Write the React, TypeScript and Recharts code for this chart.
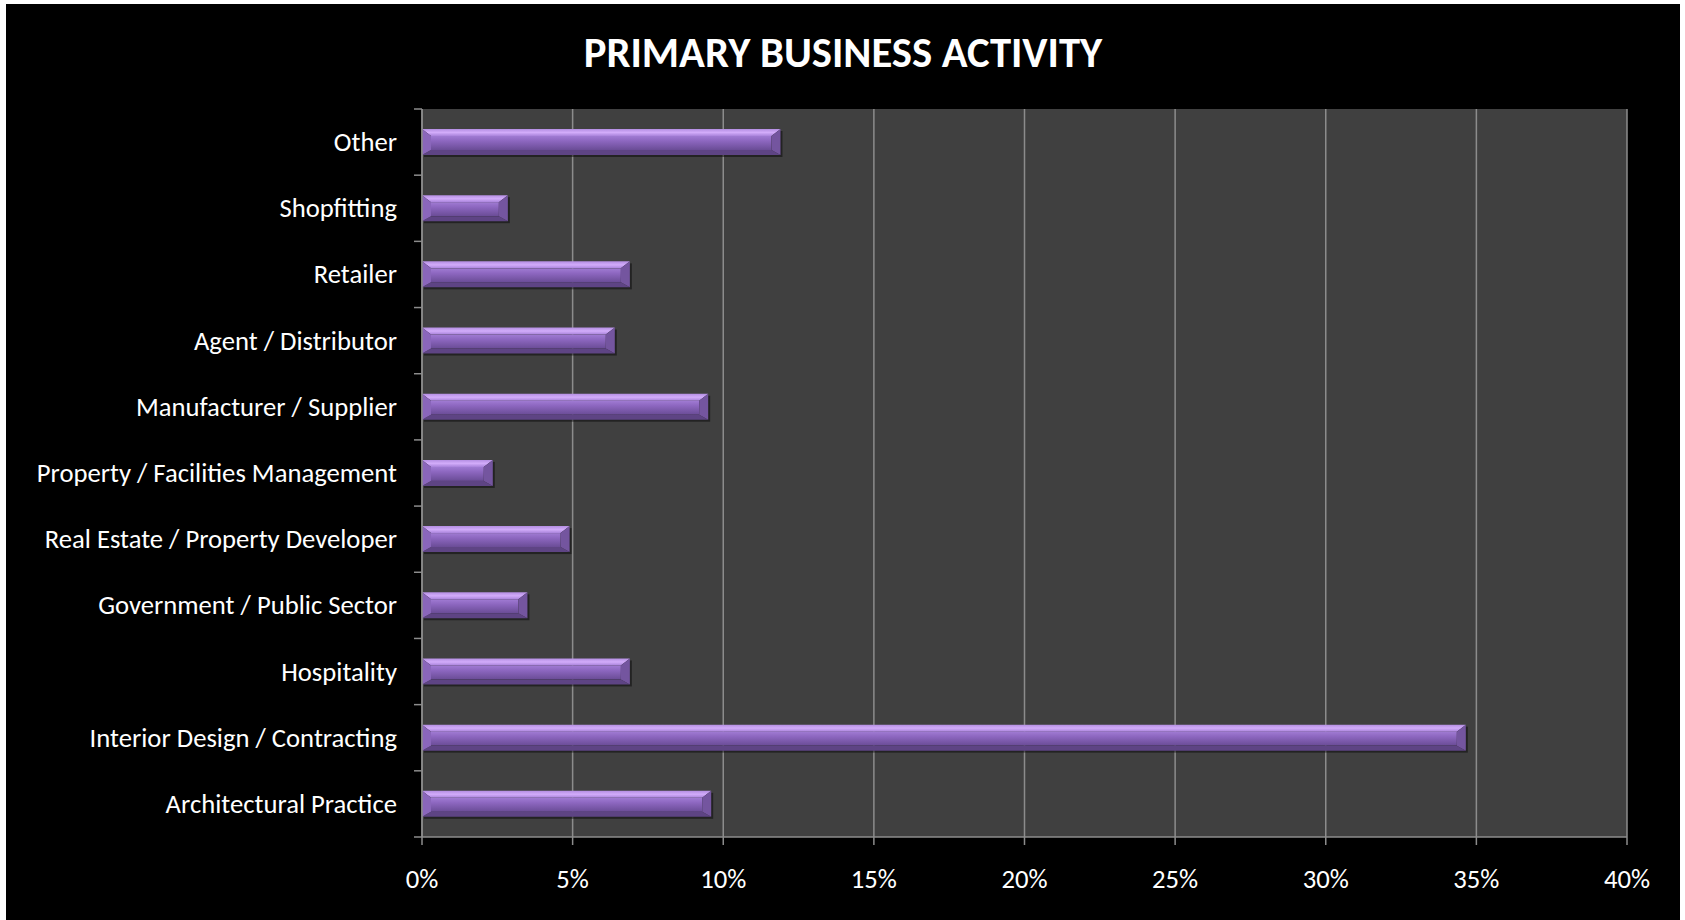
import React from 'react';
import { BarChart, Bar, XAxis, YAxis, CartesianGrid } from 'recharts';

const categories = [
  'Other',
  'Shopfitting',
  'Retailer',
  'Agent / Distributor',
  'Manufacturer / Supplier',
  'Property / Facilities Management',
  'Real Estate / Property Developer',
  'Government / Public Sector',
  'Hospitality',
  'Interior Design / Contracting',
  'Architectural Practice',
];
const shares = [11.9, 2.85, 6.9, 6.4, 9.5, 2.35, 4.9, 3.5, 6.9, 34.65, 9.6];
const xTicks = [0, 5, 10, 15, 20, 25, 30, 35, 40];

const data = categories.map((name, i) => ({ name, value: shares[i] }));

const W = 1674;
const H = 916;
const Y_AXIS_W = 416;
const MARGIN = { top: 105, right: 53, bottom: 43, left: 0 };
const X_AXIS_H = 40;
const PLOT_H = H - MARGIN.top - MARGIN.bottom - X_AXIS_H;
const BAND = PLOT_H / categories.length;
const GRID = '#8c8c8c';
const FONT = "Carlito, 'Open Sans', sans-serif";

// bevelled purple bar, like the Excel preset
const BevelBar = (props: any) => {
  const { x, y, width, height } = props;
  if (!width || width <= 0) return null;
  const d = Math.min(9, width / 2);
  const dt = 7;
  const db = 5;
  const r = x + width;
  const b = y + height;
  return (
    <g>
      <rect x={x + 2} y={y + 2} width={width} height={height} fill="#000" opacity={0.45} />
      <rect x={x + d} y={y + dt} width={width - 2 * d} height={height - dt - db} fill="url(#barBody)" />
      <polygon points={`${x},${y} ${r},${y} ${r - d},${y + dt} ${x + d},${y + dt}`} fill="url(#barTop)" />
      <polygon points={`${x + d},${b - db} ${r - d},${b - db} ${r},${b} ${x},${b}`} fill="#5e4484" />
      <polygon points={`${r - d},${y + dt} ${r},${y} ${r},${b} ${r - d},${b - db}`} fill="#74559f" />
      <polygon points={`${x},${y} ${x + d},${y + dt} ${x + d},${b - db} ${x},${b}`} fill="#8a66bb" />
    </g>
  );
};

const CategoryTick = (props: any) => {
  const { y, payload, index } = props;
  const top = y - BAND / 2;
  return (
    <g>
      <line x1={Y_AXIS_W - 8} x2={Y_AXIS_W} y1={top} y2={top} stroke={GRID} strokeWidth={1.5} />
      {index === categories.length - 1 && (
        <line x1={Y_AXIS_W - 8} x2={Y_AXIS_W} y1={top + BAND} y2={top + BAND} stroke={GRID} strokeWidth={1.5} />
      )}
      <text x={Y_AXIS_W - 25} y={y} textAnchor="end" dominantBaseline="central" fill="#fff" fontSize={26.67} fontFamily={FONT}>
        {payload.value}
      </text>
    </g>
  );
};

const PercentTick = (props: any) => {
  const { x, y, payload } = props;
  return (
    <text x={x} y={y + 32} textAnchor="middle" dominantBaseline="central" fill="#fff" fontSize={26.67} fontFamily={FONT}>
      {payload.value}%
    </text>
  );
};

const App: React.FC = () => {
  return (
    <div style={styles.page}>
      <div style={styles.panel}>
        <div style={styles.title}>PRIMARY BUSINESS ACTIVITY</div>
        <BarChart width={W} height={H} data={data} layout="vertical" margin={MARGIN} barSize={26}>
          <defs>
            <linearGradient id="barBody" x1="0" y1="0" x2="0" y2="1">
              <stop offset="0%" stopColor="#a07bd3" />
              <stop offset="35%" stopColor="#8d67c0" />
              <stop offset="100%" stopColor="#6a4c96" />
            </linearGradient>
            <linearGradient id="barTop" x1="0" y1="0" x2="0" y2="1">
              <stop offset="0%" stopColor="#b48ee2" />
              <stop offset="50%" stopColor="#d2acfa" />
              <stop offset="100%" stopColor="#a983db" />
            </linearGradient>
          </defs>
          <CartesianGrid horizontal={false} stroke={GRID} strokeWidth={1.5} fill="#404040" />
          <XAxis
            type="number"
            domain={[0, 40]}
            ticks={xTicks}
            height={X_AXIS_H}
            stroke={GRID}
            strokeWidth={1.5}
            tickSize={8}
            tick={<PercentTick />}
            interval={0}
          />
          <YAxis
            type="category"
            dataKey="name"
            width={Y_AXIS_W}
            stroke={GRID}
            strokeWidth={1.5}
            tickLine={false}
            tick={<CategoryTick />}
            interval={0}
          />
          <Bar dataKey="value" shape={<BevelBar />} isAnimationActive={false} />
        </BarChart>
      </div>
    </div>
  );
};

const styles = {
  page: {
    position: 'absolute' as const,
    left: 0,
    top: 0,
    width: '1685px',
    height: '920px',
    background: '#fff',
  },
  panel: {
    position: 'absolute' as const,
    left: '6px',
    top: '4px',
    width: `${W}px`,
    height: `${H}px`,
    background: '#000',
  },
  title: {
    position: 'absolute' as const,
    left: 0,
    width: '100%',
    top: '23px',
    textAlign: 'center' as const,
    color: '#fff',
    fontFamily: FONT,
    fontWeight: 700,
    fontSize: '42.67px',
    lineHeight: '50px',
  },
};

export default App;
